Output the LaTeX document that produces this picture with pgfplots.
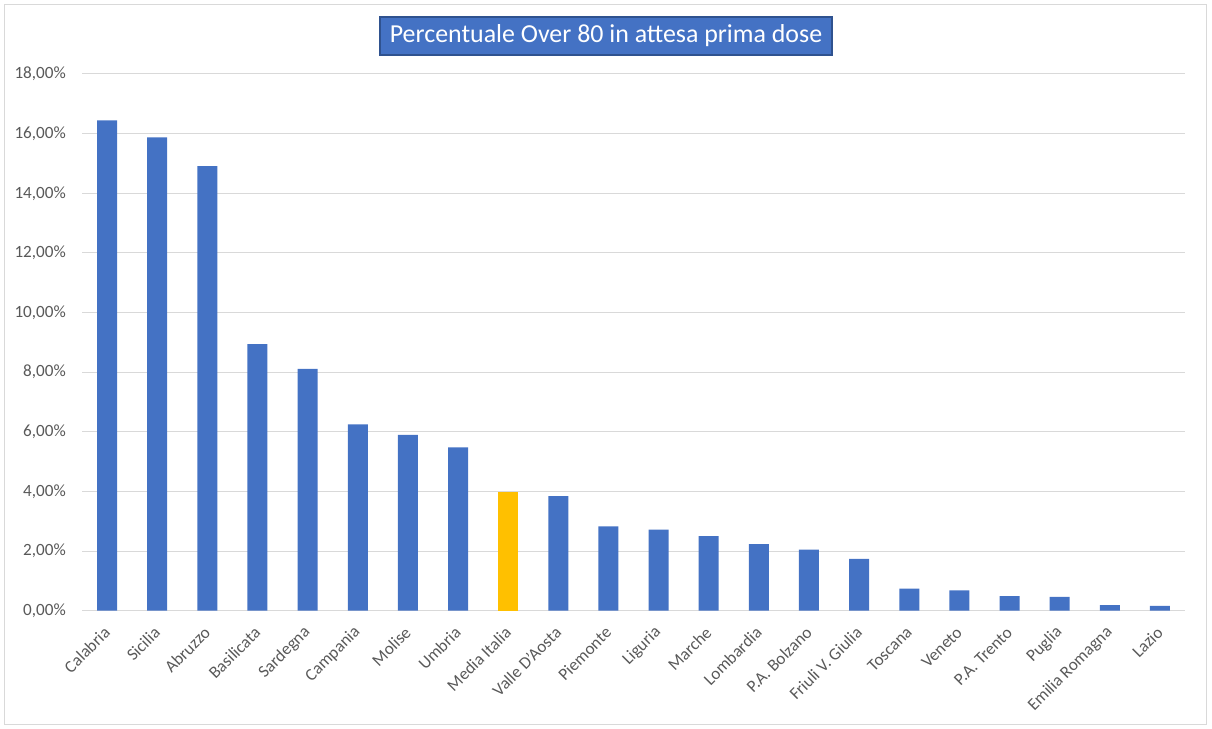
\documentclass[border=0pt]{standalone}
\usepackage{fontspec}
\setmainfont{Carlito}
\usepackage{pgfplots}
\pgfplotsset{compat=1.18}
\definecolor{barblue}{HTML}{4472C4}
\definecolor{bargold}{HTML}{FFC000}
\definecolor{gridgray}{HTML}{D9D9D9}
\definecolor{labelgray}{HTML}{595959}
\definecolor{titleborder}{HTML}{2F528F}
\begin{document}
\begin{tikzpicture}[x=1bp,y=1bp]
\path[use as bounding box] (0,0) rectangle (1212,729);
\draw[gridgray, line width=1.3bp] (4.5,4.5) rectangle (1206.5,724.5);
\begin{axis}[
  at={(82bp,118.3bp)}, anchor=south west,
  scale only axis, width=1103bp, height=536.7bp,
  xmin=-0.5, xmax=21.5, ymin=0, ymax=18,
  ytick={0,2,...,18},
  yticklabels={{0,00\%},{2,00\%},{4,00\%},{6,00\%},{8,00\%},{10,00\%},{12,00\%},{14,00\%},{16,00\%},{18,00\%}},
  xtick={0,...,21},
  xticklabels={Calabria,Sicilia,Abruzzo,Basilicata,Sardegna,Campania,Molise,Umbria,Media Italia,Valle D'Aosta,Piemonte,Liguria,Marche,Lombardia,P.A. Bolzano,Friuli V. Giulia,Toscana,Veneto,P.A. Trento,Puglia,Emilia Romagna,Lazio},
  axis x line*=bottom, axis y line*=left,
  x axis line style={gridgray, line width=1bp, -},
  y axis line style={draw=none},
  ymajorgrids, grid style={gridgray, line width=1bp},
  major tick length=0pt,
  tick label style={font=\fontsize{17.2}{20}\selectfont, text=labelgray},
  yticklabel style={anchor=east, inner sep=0pt, xshift=-16bp},
  xticklabel style={yshift=-19bp, rotate=45, anchor=east, inner sep=0pt},
  ybar, bar width=20bp, bar shift=0pt,
]
\addplot[fill=barblue, draw=none] coordinates {
(0,16.44) (1,15.87) (2,14.91) (3,8.94) (4,8.11) (5,6.25) (6,5.90) (7,5.48)
(9,3.84) (10,2.83) (11,2.72) (12,2.50) (13,2.23) (14,2.05) (15,1.74)
(16,0.74) (17,0.68) (18,0.49) (19,0.46) (20,0.19) (21,0.16)};
\addplot[fill=bargold, draw=none] coordinates {(8,3.98)};
\end{axis}
\node[fill=barblue, draw=titleborder, line width=1.2bp, text=white, minimum width=452bp, minimum height=38bp, inner sep=0pt, font=\fontsize{26}{30}\selectfont] at (606,693) {Percentuale Over 80 in attesa prima dose};
\end{tikzpicture}
\end{document}
